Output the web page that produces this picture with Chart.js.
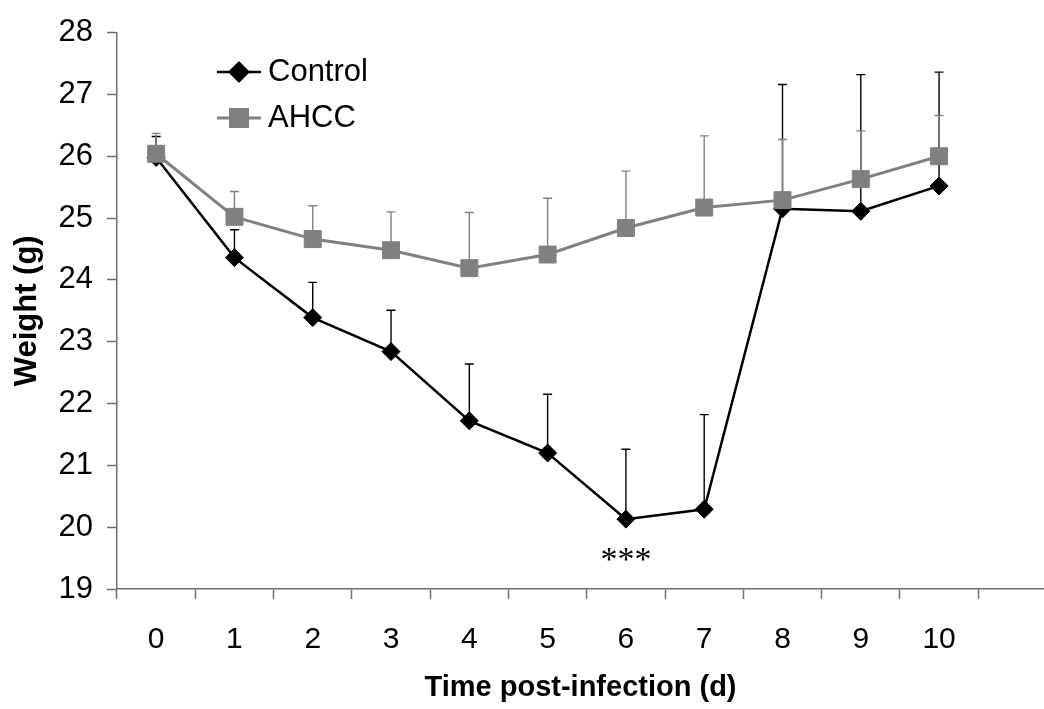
<!DOCTYPE html>
<html>
<head>
<meta charset="utf-8">
<script src="https://cdn.jsdelivr.net/npm/chart.js@4.4.1/dist/chart.umd.min.js"></script>
<style>
  html, body { margin: 0; padding: 0; background: #fff; overflow: hidden; }
  #wrap { width: 1044px; height: 709px; }
</style>
</head>
<body>
<div id="wrap"><canvas id="c" width="1044" height="709"></canvas></div>
<script>
// Days after infection
const days = [0, 1, 2, 3, 4, 5, 6, 7, 8, 9, 10];

// Mean body weight (g) and upper end of the error bar (mean + SD)
const controlMean  = [25.98, 24.36, 23.39, 22.84, 21.72, 21.20, 20.13, 20.29, 25.15, 25.11, 25.52];
const controlUpper = [26.32, 24.81, 23.96, 23.51, 22.64, 22.15, 21.26, 21.82, 27.16, 27.32, 27.36];
const ahccMean     = [26.04, 25.02, 24.66, 24.48, 24.19, 24.41, 24.84, 25.17, 25.29, 25.63, 26.00];
const ahccUpper    = [26.37, 25.43, 25.20, 25.10, 25.09, 25.32, 25.76, 26.33, 26.27, 26.41, 26.66];

// Y axis ticks
const weightTicks = [19, 20, 21, 22, 23, 24, 25, 26, 27, 28];

// Significance marker
const sigDay = 6;
const sigWeight = 19.3;
const sigText = '***';

const SANS = '"Liberation Sans", Arial, Helvetica, sans-serif';
const AXIS_GREY = '#6e6e6e';
const AHCC_GREY = '#808080';

const toPoints = (ys) => days.map((d, i) => ({ x: d, y: ys[i] }));

// Upper-only error bars with a small cap, drawn under the lines and markers
const errorBars = {
  id: 'errorBars',
  beforeDatasetsDraw(chart) {
    const { ctx, scales: { x, y } } = chart;
    const sets = [
      { mean: controlMean, upper: controlUpper, color: '#000000' },
      { mean: ahccMean, upper: ahccUpper, color: AHCC_GREY }
    ];
    ctx.save();
    ctx.lineWidth = 1.4;
    sets.forEach(s => {
      ctx.strokeStyle = s.color;
      days.forEach((d, i) => {
        const px = x.getPixelForValue(d);
        const y0 = y.getPixelForValue(s.mean[i]);
        const y1 = y.getPixelForValue(s.upper[i]);
        ctx.beginPath();
        ctx.moveTo(px, y0);
        ctx.lineTo(px, y1);
        ctx.moveTo(px - 4.5, y1);
        ctx.lineTo(px + 4.5, y1);
        ctx.stroke();
      });
    });
    ctx.restore();
  }
};

// Legend box in the upper left of the plot, plus the significance stars
const annotations = {
  id: 'annotations',
  afterDraw(chart) {
    const { ctx, scales: { x, y } } = chart;
    ctx.save();
    const rows = [
      { label: 'Control', ds: chart.data.datasets[0], cy: 72 },
      { label: 'AHCC', ds: chart.data.datasets[1], cy: 118 }
    ];
    rows.forEach(r => {
      ctx.strokeStyle = r.ds.borderColor;
      ctx.lineWidth = r.ds.borderWidth;
      ctx.beginPath();
      ctx.moveTo(217, r.cy);
      ctx.lineTo(261, r.cy);
      ctx.stroke();
      Chart.helpers.drawPoint(ctx, {
        pointStyle: r.ds.pointStyle,
        radius: r.ds.pointRadius,
        borderWidth: 1,
        rotation: 0
      }, 239, r.cy);
      ctx.fillStyle = r.ds.pointBackgroundColor;
      ctx.strokeStyle = r.ds.pointBorderColor;
      ctx.fill();
      ctx.stroke();
      ctx.fillStyle = '#000';
      ctx.font = '31px ' + SANS;
      ctx.textAlign = 'left';
      ctx.textBaseline = 'middle';
      ctx.fillText(r.label, 268, r.cy);
    });

    ctx.fillStyle = '#000';
    ctx.font = '34px "Liberation Serif", "Times New Roman", serif';
    ctx.textAlign = 'center';
    ctx.textBaseline = 'alphabetic';
    ctx.fillText(sigText, x.getPixelForValue(sigDay), y.getPixelForValue(sigWeight));
    ctx.restore();
  }
};

new Chart(document.getElementById('c'), {
  type: 'line',
  data: {
    datasets: [
      {
        label: 'Control',
        data: toPoints(controlMean),
        borderColor: '#000000',
        borderWidth: 2.5,
        pointStyle: 'rectRot',
        pointRadius: 9,
        pointBackgroundColor: '#000000',
        pointBorderColor: '#000000',
        pointBorderWidth: 1,
        tension: 0,
        order: 1
      },
      {
        label: 'AHCC',
        data: toPoints(ahccMean),
        borderColor: AHCC_GREY,
        borderWidth: 3,
        pointStyle: 'rect',
        pointRadius: 12,
        pointBackgroundColor: AHCC_GREY,
        pointBorderColor: AHCC_GREY,
        pointBorderWidth: 1,
        tension: 0,
        order: 0
      }
    ]
  },
  options: {
    responsive: false,
    animation: false,
    devicePixelRatio: 1,
    events: [],
    layout: { autoPadding: false, padding: { top: 29, right: 0, bottom: 0, left: 0 } },
    plugins: {
      legend: { display: false },
      tooltip: { enabled: false }
    },
    scales: {
      x: {
        type: 'linear',
        min: -0.5,
        max: 11.34,
        afterBuildTicks: (scale) => { scale.ticks = days.map(v => ({ value: v })); },
        afterFit: (scale) => {
          scale.height = 120;
          scale.paddingLeft = 0;
          scale.paddingRight = 0;
        },
        ticks: {
          color: '#000',
          font: { family: SANS, size: 30 },
          padding: 23,
          maxRotation: 0,
          autoSkip: false
        },
        grid: {
          offset: true,
          drawOnChartArea: false,
          drawTicks: true,
          tickLength: 10,
          tickWidth: 1.5,
          tickColor: AXIS_GREY
        },
        border: { display: true, color: AXIS_GREY, width: 1.5 },
        title: {
          display: true,
          text: 'Time post-infection (d)',
          color: '#000',
          font: { family: SANS, size: 29, weight: 'bold' },
          padding: { top: 0, bottom: 4 }
        }
      },
      y: {
        type: 'linear',
        min: 19,
        max: 28,
        afterBuildTicks: (scale) => { scale.ticks = weightTicks.map(v => ({ value: v })); },
        afterFit: (scale) => { scale.width = 117; },
        ticks: {
          color: '#000',
          font: { family: SANS, size: 31 },
          padding: 14
        },
        grid: {
          drawOnChartArea: false,
          drawTicks: true,
          tickLength: 10,
          tickWidth: 1.5,
          tickColor: AXIS_GREY
        },
        border: { display: true, color: AXIS_GREY, width: 1.5 },
        title: {
          display: true,
          text: 'Weight (g)',
          color: '#000',
          font: { family: SANS, size: 31, weight: 'bold' },
          padding: { top: 9, bottom: 0 }
        }
      }
    }
  },
  plugins: [errorBars, annotations]
});
</script>
</body>
</html>
